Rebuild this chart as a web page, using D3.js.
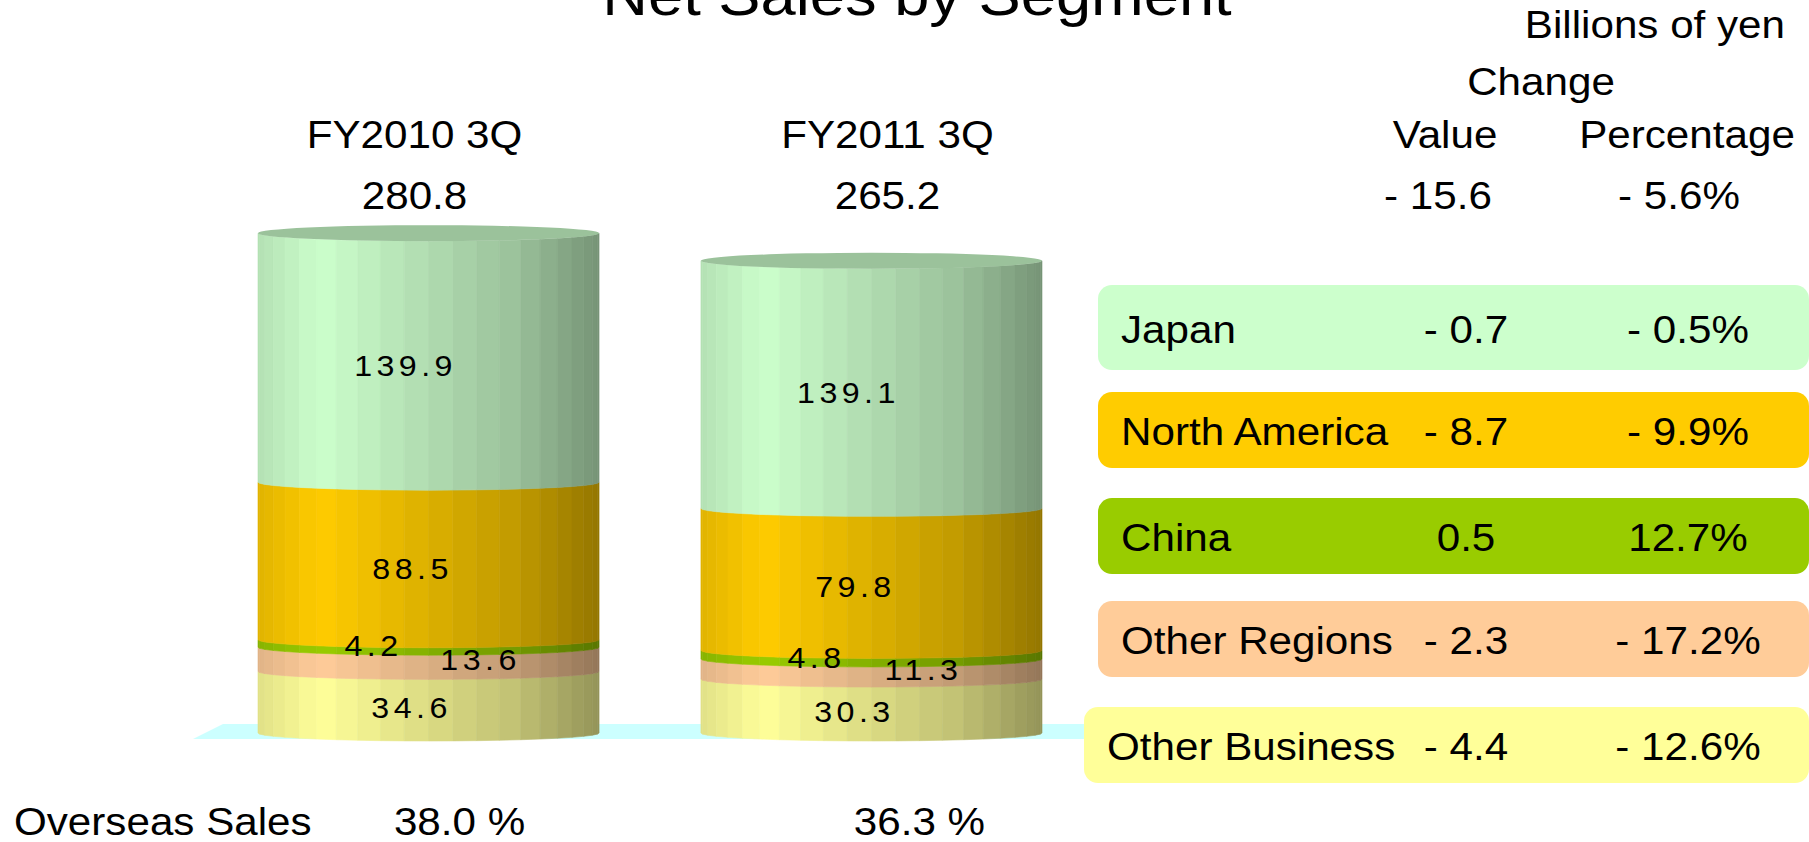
<!DOCTYPE html>
<html>
<head>
<meta charset="utf-8">
<script src="https://cdn.jsdelivr.net/npm/d3@7"></script>
<style>
    body { margin: 0; background: #fff; overflow: hidden; }
    text { font-family: Arial, "Liberation Sans", sans-serif; fill: #000; }
</style>
</head>
<body>
<script>
// data, billions of yen
const periods = ["FY2010 3Q", "FY2011 3Q"];
const totals = ["280.8", "265.2"];
const overseasShare = ["38.0 %", "36.3 %"];
const segments = ["Japan", "North America", "China", "Other Regions", "Other Business"];
const fy2010 = [139.9, 88.5, 4.2, 13.6, 34.6];
const fy2011 = [139.1, 79.8, 4.8, 11.3, 30.3];
const changeValue = ["- 0.7", "- 8.7", "0.5", "- 2.3", "- 4.4"];
const changePct = ["- 0.5%", "- 9.9%", "12.7%", "- 17.2%", "- 12.6%"];
const totalChange = ["- 15.6", "- 5.6%"];
const segColors = ["#ccffcc", "#ffcc00", "#99cc00", "#ffcc99", "#ffff99"];

// layout
const W = 1809, H = 842;
const SX = 1.11;            // the original slide text is a bit stretched sideways
const RY = 8;               // depth of the cylinder ellipses
const N_FACETS = 22;
const labelDx = [-23, -16, -55, 52, -17];
const labelDy = [18, 18, 13, 11, 16];
const headDx = [-14, 16];
const overseasDx = [31, 48];
const boxX = [1098, 1098, 1098, 1098, 1084];
const boxY = [285, 392, 498, 601, 707];
const boxH = [85, 76, 76, 76, 76];

const svg = d3.select("body").append("svg")
    .attr("width", W)
    .attr("height", H);

function txt(sel, x, y, s, size, anchor) {
    return sel.append("text")
        .attr("transform", `translate(${x},${y}) scale(${SX},1)`)
        .attr("font-size", size)
        .attr("text-anchor", anchor || "middle")
        .text(s);
}

const x = d3.scaleBand().domain(periods).range([258, 1042]).paddingInner(0.23).paddingOuter(0);
const y = d3.scaleLinear().domain([0, 300]).range([733, 199]);

// light falls from the front left
const shade = d3.scaleLinear()
    .domain([0, 0.18, 0.5, 0.75, 1])
    .range([0.88, 1.0, 0.86, 0.76, 0.58]);

function darker(col, k) {
    const c = d3.rgb(col);
    return d3.rgb(c.r * k, c.g * k, c.b * k).formatHex();
}

// floor
const floorL = x.range()[0] - 65;
svg.append("path")
    .attr("d", `M${floorL},${y(0) + 6}L${floorL + 30},${y(0) - 9}L1100,${y(0) - 9}L1100,${y(0) + 6}Z`)
    .attr("fill", "#ccffff");

const series = [fy2010, fy2011];
const rx = x.bandwidth() / 2;

series.forEach((vals, pi) => {
    const cx = x(periods[pi]) + rx;
    // stack from the bottom: Other Business first, Japan on top
    const stack = [];
    let acc = 0;
    d3.range(vals.length - 1, -1, -1).forEach(si => {
        stack.push({ si: si, v: vals[si], y0: acc, y1: acc + vals[si] });
        acc += vals[si];
    });

    const g = svg.append("g").attr("class", "cyl");
    stack.forEach(s => {
        const facets = d3.range(N_FACETS).map(i => {
            const a0 = -Math.PI / 2 + i * Math.PI / N_FACETS;
            const a1 = a0 + Math.PI / N_FACETS;
            return { a0: a0, a1: a1, t: (Math.sin((a0 + a1) / 2) + 1) / 2 };
        });
        g.append("g").selectAll("path")
            .data(facets)
            .join("path")
            .attr("d", f => {
                const xa = cx + rx * Math.sin(f.a0), xb = cx + rx * Math.sin(f.a1);
                const ea = RY * Math.cos(f.a0), eb = RY * Math.cos(f.a1);
                return `M${xa},${y(s.y1) + ea}L${xb},${y(s.y1) + eb}L${xb},${y(s.y0) + eb}L${xa},${y(s.y0) + ea}Z`;
            })
            .attr("fill", f => darker(segColors[s.si], shade(f.t)))
            .attr("stroke", f => darker(segColors[s.si], shade(f.t)))
            .attr("stroke-width", 0.6);
    });

    // top face
    g.append("ellipse")
        .attr("cx", cx).attr("cy", y(acc))
        .attr("rx", rx).attr("ry", RY)
        .attr("fill", darker(segColors[0], 0.76));

    // values inside the cylinder
    stack.forEach(s => {
        txt(g, cx + labelDx[s.si], (y(s.y0) + y(s.y1)) / 2 + labelDy[s.si], s.v.toFixed(1), 29)
            .attr("letter-spacing", 4);
    });

    txt(svg, cx + headDx[pi], 148, periods[pi], 38);
    txt(svg, cx + headDx[pi], 209, totals[pi], 38);
    txt(svg, cx + overseasDx[pi], 835, overseasShare[pi], 38);
});

// titles
txt(svg, 917, 15, "Net Sales by Segment", 57);
txt(svg, 1785, 38, "Billions of yen", 38, "end");
txt(svg, 1541, 95, "Change", 38);
txt(svg, 1445, 148, "Value", 38);
txt(svg, 1687, 148, "Percentage", 38);
txt(svg, 1438, 209, totalChange[0], 38);
txt(svg, 1679, 209, totalChange[1], 38);
txt(svg, 14, 835, "Overseas Sales", 38, "start");

// change table
const rows = svg.append("g").attr("class", "table")
    .selectAll("g")
    .data(segments)
    .join("g");

rows.append("rect")
    .attr("x", (d, i) => boxX[i])
    .attr("y", (d, i) => boxY[i])
    .attr("width", (d, i) => W - boxX[i])
    .attr("height", (d, i) => boxH[i])
    .attr("rx", 14)
    .attr("fill", (d, i) => segColors[i]);

rows.each(function (d, i) {
    const row = d3.select(this);
    const base = boxY[i] + boxH[i] / 2 + 15;
    txt(row, boxX[i] + 23, base, d, 38, "start");
    txt(row, 1466, base, changeValue[i], 38);
    txt(row, 1688, base, changePct[i], 38);
});
</script>
</body>
</html>
